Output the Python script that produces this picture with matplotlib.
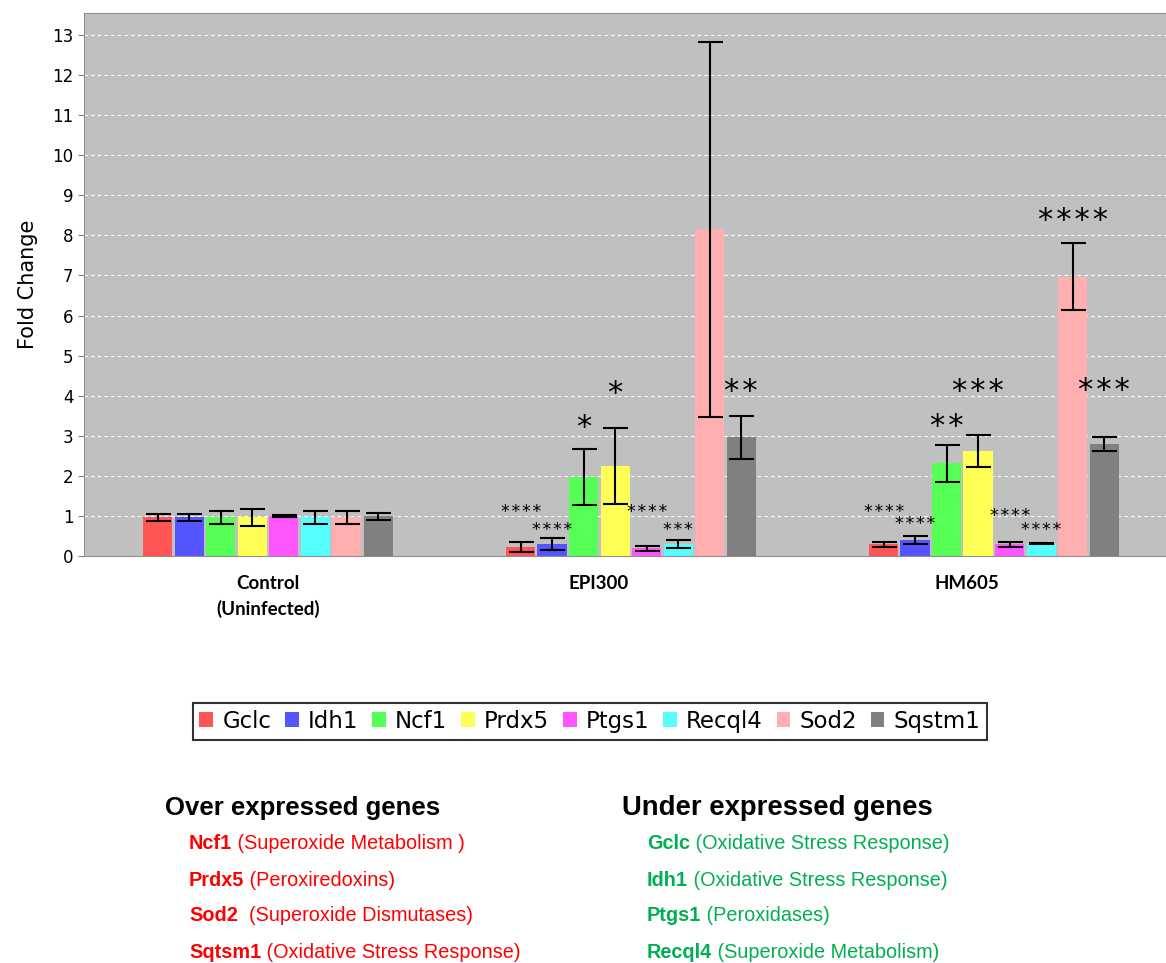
import numpy as np
import matplotlib.pyplot as plt

groups = ["Control\n(Uninfected)", "EPI300", "HM605"]
genes = ["Gclc", "Idh1", "Ncf1", "Prdx5", "Ptgs1", "Recql4", "Sod2", "Sqstm1"]
colors = ["#FF5555", "#5555FF", "#55FF55", "#FFFF55", "#FF55FF", "#55FFFF", "#FFAFAF", "#808080"]

control_mean = [0.97, 0.97, 0.97, 0.97, 1.0, 0.97, 0.97, 0.99]
control_err = [0.09, 0.09, 0.16, 0.21, 0.02, 0.16, 0.16, 0.08]
epi300_mean = [0.22, 0.30, 1.98, 2.25, 0.19, 0.29, 8.15, 2.96]
epi300_err = [0.12, 0.14, 0.70, 0.95, 0.055, 0.10, 4.68, 0.54]
hm605_mean = [0.29, 0.40, 2.31, 2.62, 0.29, 0.31, 6.97, 2.80]
hm605_err = [0.06, 0.10, 0.47, 0.39, 0.06, 0.02, 0.83, 0.18]

epi300_stars = ["****", "****", "*", "*", "****", "***", "", "**"]
hm605_stars = ["****", "****", "**", "***", "****", "****", "****", "***"]
# height (fold change units) where each star label sits
epi300_star_y = [1.09, 0.66, 3.2, 4.05, 1.09, 0.66, None, 4.1]
hm605_star_y = [1.09, 0.81, 3.24, 4.1, 1.0, 0.66, 8.37, 4.14]

over_genes = [("Ncf1", " (Superoxide Metabolism )"), ("Prdx5", " (Peroxiredoxins)"),
              ("Sod2", "  (Superoxide Dismutases)"), ("Sqtsm1", " (Oxidative Stress Response)")]
under_genes = [("Gclc", " (Oxidative Stress Response)"), ("Idh1", " (Oxidative Stress Response)"),
               ("Ptgs1", " (Peroxidases)"), ("Recql4", " (Superoxide Metabolism)")]

means = np.array([control_mean, epi300_mean, hm605_mean])
errs = np.array([control_err, epi300_err, hm605_err])

fig = plt.figure(figsize=(11.66, 9.63), dpi=100)
ax = fig.add_axes([0.072, 0.4226, 0.928, 0.564])
ax.set_facecolor("#C0C0C0")

x = np.arange(len(groups))
pitch = 0.0868
width = 0.081
offsets = (np.arange(len(genes)) - 3.5) * pitch

for i, gene in enumerate(genes):
    ax.bar(x + offsets[i], means[:, i], width, color=colors[i], label=gene, zorder=2)
    ax.errorbar(x + offsets[i], means[:, i], yerr=errs[:, i], fmt="none",
                ecolor="black", elinewidth=1.5, capsize=9, capthick=1.5, zorder=3)

for gi, (stars, ys) in enumerate([(epi300_stars, epi300_star_y), (hm605_stars, hm605_star_y)]):
    for i, (s, yv) in enumerate(zip(stars, ys)):
        if not s:
            continue
        big = yv > 2
        ax.text(gi + 1 + offsets[i], yv, "\u200a".join(s), ha="center", va="center",
                fontsize=22 if big else 12.5, family="DejaVu Sans", zorder=4)

ax.set_xlim(-0.507, 2.474)
ax.set_ylim(0, 13.55)
ax.set_yticks(range(14))
ax.tick_params(axis="y", labelsize=12, color="#808080", length=4)
ax.yaxis.grid(True, color="white", linestyle=(0, (3, 3)), linewidth=0.8, zorder=0)
ax.set_axisbelow(True)
ax.set_xticks([0, 1 - 0.09, 2 - 0.074])
ax.set_xticklabels(groups, fontsize=13.5, fontweight="bold", family="Lato", linespacing=1.5)
ax.tick_params(axis="x", length=0, pad=14)
ax.set_ylabel("Fold Change", fontsize=15, labelpad=10)
for side in ["left", "top", "bottom"]:
    ax.spines[side].set_color("#909090")
ax.spines["right"].set_visible(False)

leg = fig.legend(loc="center", bbox_to_anchor=(0.506, 0.251), ncol=8, fontsize=16.5,
                 frameon=True, fancybox=False, edgecolor="black", handlelength=0.6,
                 handleheight=0.6, handletextpad=0.4, columnspacing=0.6,
                 borderpad=0.3)
leg.get_frame().set_linewidth(1.5)

fig.text(0.1415, 1 - 808 / 963, "Over expressed genes", fontsize=18.5, fontweight="bold",
         family="Liberation Sans", va="center")
fig.text(0.5335, 1 - 808 / 963, "Under expressed genes", fontsize=19.8, fontweight="bold",
         family="Liberation Sans", va="center")

renderer = fig.canvas.get_renderer()
row_y = [843, 880, 915, 952]
for items, x0, col in [(over_genes, 189, "#FF0000"), (under_genes, 647, "#00B050")]:
    for (name, desc), yp in zip(items, row_y):
        t = fig.text(x0 / 1166, 1 - yp / 963, name, fontsize=14.3, fontweight="bold",
                     family="Liberation Sans", color=col, va="center")
        bb = t.get_window_extent(renderer)
        fig.text(bb.x1 / fig.bbox.width, 1 - yp / 963, desc, fontsize=14.3,
                 family="Liberation Sans", color=col, va="center")

fig.savefig("out.png", dpi=100)
